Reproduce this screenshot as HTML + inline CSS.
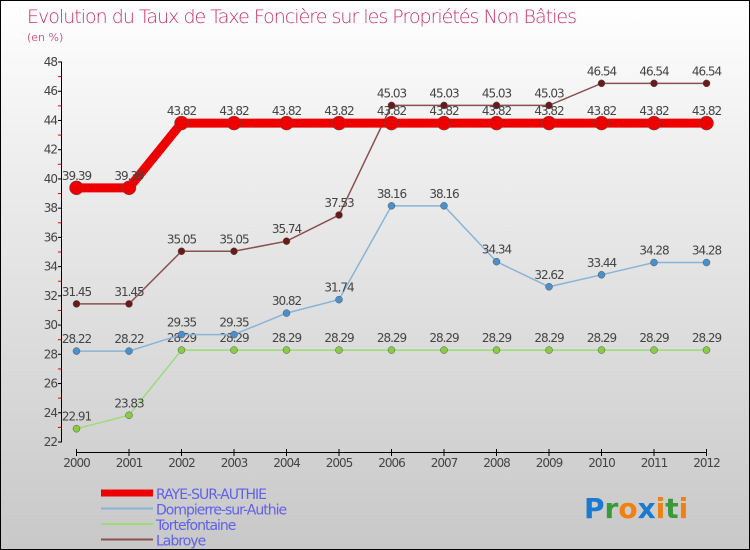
<!DOCTYPE html>
<html><head><meta charset="utf-8"><style>
body{margin:0}
#c{position:relative;width:750px;height:550px;box-sizing:border-box;border:1px solid #000;background:linear-gradient(#fff,#f0f0f0 25%,#c8c8c8);font-family:"DejaVu Sans","Liberation Sans",sans-serif;overflow:hidden}
svg text{font-family:"DejaVu Sans","Liberation Sans",sans-serif}
</style></head><body>
<div id="c">
<svg id="s" width="750" height="550">
<text x="26" y="22" font-size="19" fill="#c8346a" style="font-weight:200" textLength="550">Evolution du Taux de Taxe Foncière sur les Propriétés Non Bâties</text>
<text x="26" y="40" font-size="11" fill="#d06090">(en %)</text>
</svg>
</div>
<script>
const years=[2000,2001,2002,2003,2004,2005,2006,2007,2008,2009,2010,2011,2012];
const raye=[39.39,39.39,43.82,43.82,43.82,43.82,43.82,43.82,43.82,43.82,43.82,43.82,43.82];
const dompierre=[28.22,28.22,29.35,29.35,30.82,31.74,38.16,38.16,34.34,32.62,33.44,34.28,34.28];
const tortefontaine=[22.91,23.83,28.29,28.29,28.29,28.29,28.29,28.29,28.29,28.29,28.29,28.29,28.29];
const labroye=[31.45,31.45,35.05,35.05,35.74,37.53,45.03,45.03,45.03,45.03,46.54,46.54,46.54];
const yTicks=[22,24,26,28,30,32,34,36,38,40,42,44,46,48];
const NS="http://www.w3.org/2000/svg";const s=document.getElementById('s');
const X=i=>75.5+i*52.5, Y=v=>441-(v-22)*(380/26);
function el(t,a,p){const e=document.createElementNS(NS,t);for(const k in a)e.setAttribute(k,a[k]);(p||s).appendChild(e);return e;}
let e=el('line',{x1:60.5,y1:61,x2:60.5,y2:441,stroke:'#000'});


e=el('line',{x1:75,y1:451.5,x2:706,y2:451.5,stroke:'#000'});


yTicks.forEach(v=>{
 let t=el('line',{x1:57,x2:61,y1:Y(v),y2:Y(v),stroke:'#000'});
 
 
 if(v<48){let m=el('line',{x1:57,x2:60,y1:Y(v+1),y2:Y(v+1),stroke:'#e00'});
 
 }
 let l=el('text',{x:56,y:Y(v)+4,'font-size':12,'text-anchor':'end',fill:'#444','letter-spacing':'-1'});l.textContent=v;
 
 
});
years.forEach((y,i)=>{
 let t=el('line',{x1:X(i),x2:X(i),y1:448,y2:455,stroke:'#000'});
 
 
 let l=el('text',{x:X(i),y:466,'font-size':12,'text-anchor':'middle',fill:'#444','letter-spacing':'-1'});l.textContent=y;
 
 
});
function series(d,col,dot,w,r,name){
 let p=el('polyline',{points:d.map((v,i)=>X(i)+','+Y(v)).join(' '),fill:'none',stroke:col,'stroke-width':w});
 
 
 d.forEach((v,i)=>{
  let c=el('circle',{cx:X(i),cy:Y(v),r:r,fill:dot,stroke:'#555','stroke-width':0.5});
  
  
  let l=el('text',{x:X(i),y:Y(v)-8,'font-size':12,'text-anchor':'middle',fill:'#444','letter-spacing':'-1'});l.textContent=v.toFixed(2);
  
  
 });
}
series(tortefontaine,'#99dd77','#88cc44',1.5,3.5,'tortefontaine');
series(dompierre,'#88b4d8','#4a90cc',1.5,3.5,'dompierre');
series(labroye,'#8a5050','#6a1a1a',1.5,3.5,'labroye');
series(raye,'#ee0000','#ee0000',9,7,'raye');
const leg=[['RAYE-SUR-AUTHIE','#ee0000',7],['Dompierre-sur-Authie','#88b4d8',2],['Tortefontaine','#99dd77',2],['Labroye','#8a5050',2]];
leg.forEach((g,i)=>{
 let y=492+i*15.5;
 let l=el('line',{x1:100,x2:152,y1:y,y2:y,stroke:g[1],'stroke-width':g[2]});
 
 
 let t=el('text',{x:155,y:y+6,'font-size':14,fill:'#6060ee','letter-spacing':'-1'});t.textContent=g[0];
 
 
});
const logo=el('text',{x:583,y:517,'font-size':28,'font-weight':'bold'});


[['P','#1a7ad0'],['r','#3a9a3a'],['o','#f08010'],['x','#1a7ad0'],['i','#f08010'],['t','#3a9a3a'],['i','#f08010']].forEach(c=>{let sp=el('tspan',{fill:c[1]},logo);sp.textContent=c[0];});
</script>
</body></html>
